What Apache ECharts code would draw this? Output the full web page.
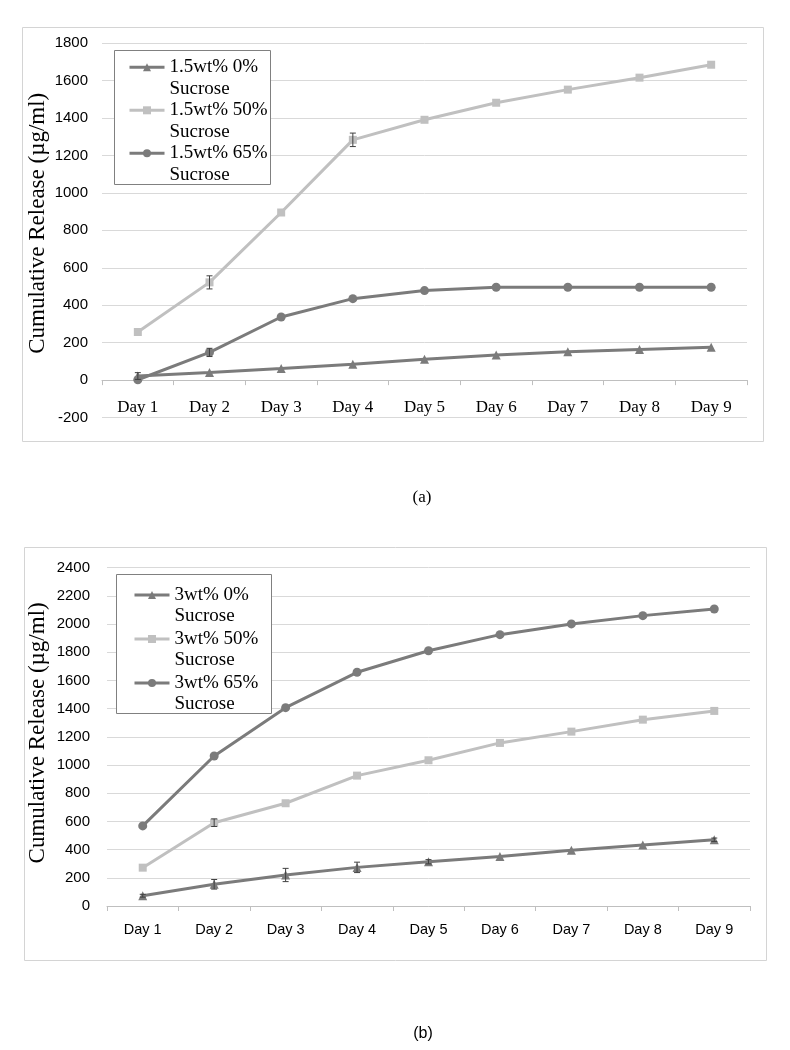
<!DOCTYPE html>
<html>
<head>
<meta charset="utf-8">
<script src="https://cdn.jsdelivr.net/npm/echarts@6/dist/echarts.min.js"></script>
<style>
html,body{margin:0;padding:0;background:#fff;}
#c{width:790px;height:1050px;}
</style>
</head>
<body>
<div id="c"></div>
<script>
// ---- data ----
var days = ['Day 1','Day 2','Day 3','Day 4','Day 5','Day 6','Day 7','Day 8','Day 9'];
var yTicksA = {min: -200, max: 1800, interval: 200};
var yTicksB = {min: 0, max: 2400, interval: 200};

var namesA = ['1.5wt% 0% Sucrose', '1.5wt% 50% Sucrose', '1.5wt% 65% Sucrose'];
var a0  = [22, 41, 62, 85, 111, 134, 152, 164, 175];
var a50 = [257, 522, 895, 1283, 1390, 1481, 1551, 1615, 1684];
var a65 = [2, 148, 337, 435, 478, 496, 496, 496, 496];
var a0Err  = [18, 0, 0, 0, 0, 0, 0, 0, 0];
var a50Err = [0, 35, 0, 36, 0, 0, 0, 0, 0];
var a65Err = [0, 22, 0, 0, 0, 0, 0, 0, 0];

var namesB = ['3wt% 0% Sucrose', '3wt% 50% Sucrose', '3wt% 65% Sucrose'];
var b0  = [73, 154, 220, 274, 314, 352, 395, 433, 470];
var b50 = [272, 591, 729, 925, 1034, 1157, 1237, 1322, 1384];
var b65 = [568, 1064, 1407, 1658, 1811, 1925, 2001, 2060, 2107];
var b0Err  = [10, 34, 47, 37, 15, 0, 0, 0, 12];
var b50Err = [0, 27, 0, 0, 0, 0, 0, 0, 0];
var b65Err = [0, 0, 0, 0, 0, 0, 0, 0, 0];

// ---- styles ----
var DARK = '#7b7b7b', LIGHT = '#c0c0c0';
var SERIF = 'Liberation Serif', SANS = 'Liberation Sans';

function lineSeries(name, data, color, symbol, size, g) {
  return {
    type: 'line', name: name, data: data,
    xAxisIndex: g, yAxisIndex: g,
    symbol: symbol, symbolSize: size, showSymbol: true,
    lineStyle: {color: color, width: 3},
    itemStyle: {color: color},
    animation: false, z: 3
  };
}
function errSeries(vals, errs, g) {
  var d = [];
  for (var i = 0; i < vals.length; i++) if (errs[i] > 0) d.push([i, vals[i], errs[i]]);
  return {
    type: 'custom', xAxisIndex: g, yAxisIndex: g, data: d, z: 4, silent: true, animation: false,
    renderItem: function (params, api) {
      var x = api.value(0), v = api.value(1), e = api.value(2);
      var hi = api.coord([x, v + e]), lo = api.coord([x, v - e]);
      var w = 3;
      var st = {stroke: '#404040', lineWidth: 1};
      return {type: 'group', children: [
        {type: 'line', shape: {x1: hi[0], y1: hi[1], x2: lo[0], y2: lo[1]}, style: st},
        {type: 'line', shape: {x1: hi[0]-w, y1: hi[1], x2: hi[0]+w, y2: hi[1]}, style: st},
        {type: 'line', shape: {x1: lo[0]-w, y1: lo[1], x2: lo[0]+w, y2: lo[1]}, style: st}
      ]};
    }
  };
}
// a blank first line keeps the marker level with the first text line
function legendFmt(n) { return ' \n' + n.replace(' Sucrose', '\nSucrose'); }
function plainNum(v) { return String(v); }

var LH = 21.5;
var chart = echarts.init(document.getElementById('c'), null, {renderer: 'canvas'});
chart.setOption({
  backgroundColor: '#fff',
  animation: false,
  graphic: [
    {type: 'rect', shape: {x: 22.5, y: 27.5, width: 741, height: 414}, style: {fill: 'none', stroke: '#d4d4d4', lineWidth: 1}, z: -10},
    {type: 'rect', shape: {x: 24.5, y: 547.5, width: 742, height: 413}, style: {fill: 'none', stroke: '#d4d4d4', lineWidth: 1}, z: -10},
    {type: 'rect', shape: {x: 114.5, y: 50.5, width: 156, height: 134}, style: {fill: '#fff', stroke: '#808080', lineWidth: 1}, z: 50},
    {type: 'rect', shape: {x: 116.5, y: 574.5, width: 155, height: 139}, style: {fill: '#fff', stroke: '#808080', lineWidth: 1}, z: 50}
  ],
  title: [
    {text: '(a)', left: 422, top: 498, textAlign: 'center', textVerticalAlign: 'middle', padding: 0,
     textStyle: {fontFamily: SERIF, fontSize: 17, fontWeight: 'normal', color: '#000'}},
    {text: '(b)', left: 423, top: 1034, textAlign: 'center', textVerticalAlign: 'middle', padding: 0,
     textStyle: {fontFamily: SANS, fontSize: 16, fontWeight: 'normal', color: '#000'}}
  ],
  legend: [
    {data: namesA, left: 128, top: 67.3 - 1.5 * LH, orient: 'vertical', itemWidth: 35, itemHeight: 10,
     itemGap: 43 - 3 * LH, padding: 0, borderWidth: 0, z: 60,
     selectedMode: false, formatter: legendFmt, align: 'left',
     lineStyle: {width: 3},
     textStyle: {fontFamily: SERIF, fontSize: 19, lineHeight: LH, color: '#000'}},
    {data: namesB, left: 133, top: 595 - 1.5 * LH, orient: 'vertical', itemWidth: 35, itemHeight: 10,
     itemGap: 44 - 3 * LH, padding: 0, borderWidth: 0, z: 60,
     selectedMode: false, formatter: legendFmt, align: 'left',
     lineStyle: {width: 3},
     textStyle: {fontFamily: SERIF, fontSize: 19, lineHeight: LH, color: '#000'}}
  ],
  grid: [
    {left: 102, right: 43, top: 43, bottom: 632.4},
    {left: 107, right: 40, top: 567.7, bottom: 144}
  ],
  xAxis: [
    {type: 'category', gridIndex: 0, data: days, boundaryGap: true,
     axisLine: {onZero: true, lineStyle: {color: '#bfbfbf', width: 1}},
     axisTick: {show: true, length: 5, inside: false, lineStyle: {color: '#bfbfbf'}},
     axisLabel: {fontFamily: SERIF, fontSize: 17, color: '#000', margin: -19, interval: 0},
     splitLine: {show: false}},
    {type: 'category', gridIndex: 1, data: days, boundaryGap: true,
     axisLine: {onZero: true, lineStyle: {color: '#bfbfbf', width: 1}},
     axisTick: {show: true, length: 5, inside: false, lineStyle: {color: '#bfbfbf'}},
     axisLabel: {fontFamily: SANS, fontSize: 14.5, color: '#000', margin: 16, interval: 0},
     splitLine: {show: false}}
  ],
  yAxis: [
    {type: 'value', gridIndex: 0, min: yTicksA.min, max: yTicksA.max, interval: yTicksA.interval,
     name: 'Cumulative Release (µg/ml)', nameLocation: 'middle', nameGap: 53, nameRotate: 90,
     nameMoveOverlap: false,
     nameTextStyle: {fontFamily: SERIF, fontSize: 23, color: '#000', padding: [0, 0, 0, 14]},
     axisLine: {show: false}, axisTick: {show: false},
     axisLabel: {fontFamily: SANS, fontSize: 15, color: '#000', margin: 14, formatter: plainNum},
     splitLine: {show: true, lineStyle: {color: '#d9d9d9', width: 1}}},
    {type: 'value', gridIndex: 1, min: yTicksB.min, max: yTicksB.max, interval: yTicksB.interval,
     name: 'Cumulative Release (µg/ml)', nameLocation: 'middle', nameGap: 58, nameRotate: 90,
     nameMoveOverlap: false,
     nameTextStyle: {fontFamily: SERIF, fontSize: 23, color: '#000', padding: [0, 0, 0, 8]},
     axisLine: {show: false}, axisTick: {show: false},
     axisLabel: {fontFamily: SANS, fontSize: 15, color: '#000', margin: 17, formatter: plainNum},
     splitLine: {show: true, lineStyle: {color: '#d9d9d9', width: 1}}}
  ],
  series: [
    lineSeries(namesA[0], a0, DARK, 'triangle', 9, 0),
    lineSeries(namesA[1], a50, LIGHT, 'rect', 8, 0),
    lineSeries(namesA[2], a65, DARK, 'circle', 9, 0),
    errSeries(a0, a0Err, 0), errSeries(a50, a50Err, 0), errSeries(a65, a65Err, 0),
    lineSeries(namesB[0], b0, DARK, 'triangle', 9, 1),
    lineSeries(namesB[1], b50, LIGHT, 'rect', 8, 1),
    lineSeries(namesB[2], b65, DARK, 'circle', 9, 1),
    errSeries(b0, b0Err, 1), errSeries(b50, b50Err, 1), errSeries(b65, b65Err, 1)
  ]
});
</script>
</body>
</html>
